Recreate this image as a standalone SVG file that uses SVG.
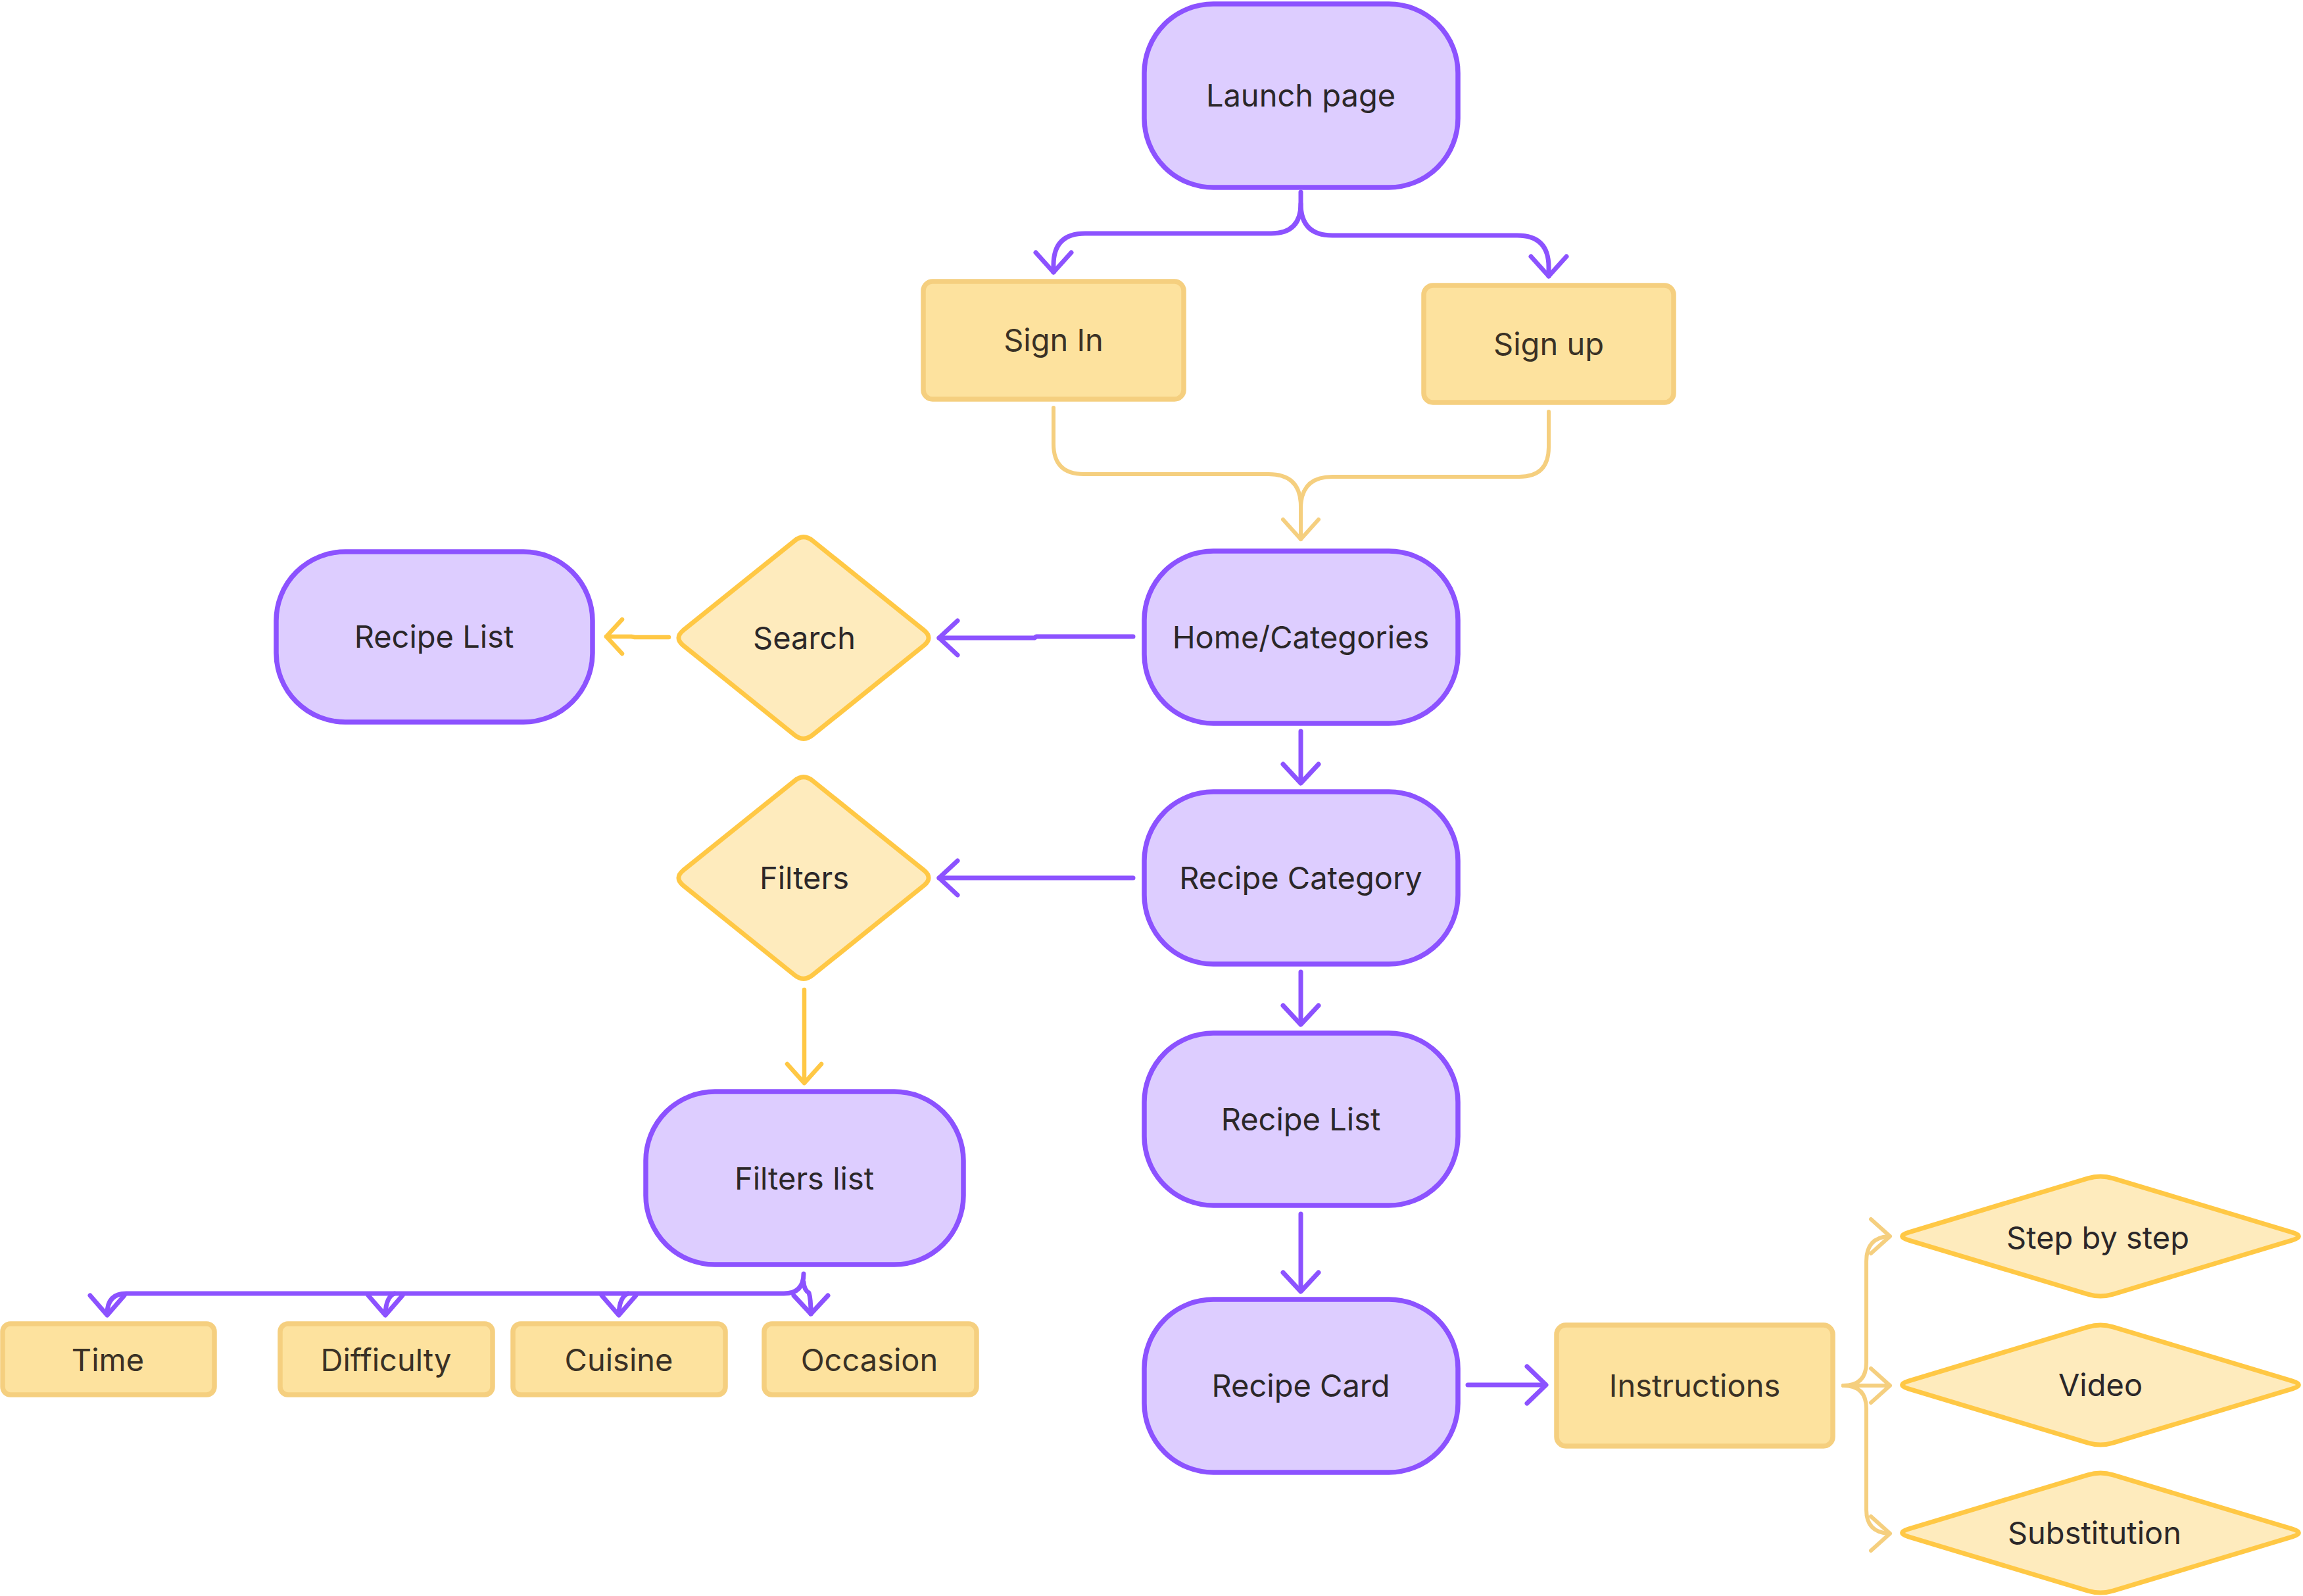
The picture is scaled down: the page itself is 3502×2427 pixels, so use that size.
<svg xmlns="http://www.w3.org/2000/svg" width="3502" height="2427" viewBox="0 0 3502 2427">
<style>
.pn{fill:#DDCDFF;stroke:#8C52FF;stroke-width:7.5}
.yn{fill:#FDE29E;stroke:#F5CF7F;stroke-width:7.5}
.dn{fill:#FEEBBD;stroke:#FFC845;stroke-width:7;stroke-linejoin:round}
.t{font-family:Inter,'Noto Sans','Liberation Sans',sans-serif;font-size:47px;text-anchor:middle;fill:#2B2729}
.ty{fill:#3A3125}
.cp{fill:none;stroke:#8C52FF;stroke-width:7;stroke-linecap:round;stroke-linejoin:round}
.cy{fill:none;stroke:#F5CF7F;stroke-width:6;stroke-linecap:round;stroke-linejoin:round}
.cb{fill:none;stroke:#FFC845;stroke-width:6.5;stroke-linecap:round;stroke-linejoin:round}
</style>
<rect width="3502" height="2427" fill="#FFFFFF"/>
<g id="connectors">
<path class="cp" d="M1978 292 L1978 310 Q1978 355 1933 355 L1650 355 Q1602 355 1602 403 L1602 414"/>
<path class="cp" d="M1575 384 L1602 414 L1629 384"/>
<path class="cp" d="M1978 310 Q1978 358 2026 358 L2307 358 Q2355 358 2355 406 L2355 420"/>
<path class="cp" d="M2328 390 L2355 420 L2382 390"/>
<path class="cy" d="M1602 620 L1602 675 Q1602 721 1648 721 L1929 721 Q1978 721 1978 770 L1978 820"/>
<path class="cy" d="M2355 626 L2355 680 Q2355 725 2310 725 L2026 725 Q1978 725 1978 773"/>
<path class="cy" d="M1951 790 L1978 820 L2005 790"/>
<path class="cp" d="M1723 968 L1576 968 L1573 970 L1428 970"/>
<path class="cp" d="M1456 944 L1428 970 L1456 996"/>
<path class="cb" d="M1017 969 L965 969 L960 968 L922 968"/>
<path class="cb" d="M946 942 L922 968 L946 994"/>
<path class="cp" d="M1978 1112 L1978 1190"/>
<path class="cp" d="M1951 1162 L1978 1191 L2005 1162"/>
<path class="cp" d="M1723 1335 L1428 1335"/>
<path class="cp" d="M1456 1309 L1428 1335 L1456 1361"/>
<path class="cp" d="M1978 1478 L1978 1557"/>
<path class="cp" d="M1951 1529 L1978 1558 L2005 1529"/>
<path class="cp" d="M1978 1846 L1978 1963"/>
<path class="cp" d="M1951 1935 L1978 1964 L2005 1935"/>
<path class="cp" d="M2232 2106 L2350 2106"/>
<path class="cp" d="M2322 2078 L2351 2106 L2322 2134"/>
<path class="cb" d="M1223 1505 L1223 1646"/>
<path class="cb" d="M1197 1618 L1223 1647 L1249 1618"/>
<path class="cp" d="M1222 1937 Q1222 1967 1192 1967 L192 1967 Q163 1967 163 1998"/>
<path class="cp" d="M137 1970 L163 2000 L189 1970"/>
<path class="cp" d="M600 1967 Q587 1972 586 1998"/>
<path class="cp" d="M560 1970 L586 2000 L612 1970"/>
<path class="cp" d="M955 1967 Q942 1972 941 1998"/>
<path class="cp" d="M915 1970 L941 2000 L967 1970"/>
<path class="cp" d="M1222 1950 Q1223 1962 1230 1966 Q1233 1975 1233 1998"/>
<path class="cp" d="M1207 1970 L1233 1998 L1259 1970"/>
<path class="cy" d="M2803 2107 Q2838 2107 2838 2072 L2838 1918 Q2838 1882 2872 1880"/>
<path class="cy" d="M2845 1854 L2874 1880 L2845 1906"/>
<path class="cy" d="M2803 2107 L2872 2107"/>
<path class="cy" d="M2845 2081 L2874 2107 L2845 2133"/>
<path class="cy" d="M2803 2107 Q2838 2107 2838 2142 L2838 2296 Q2838 2330 2872 2332"/>
<path class="cy" d="M2845 2306 L2874 2332 L2845 2358"/>
</g>
<g id="launch"><rect class="pn" x="1740" y="6" width="477" height="279" rx="105" ry="105"/><text class="t" x="1978" y="162">Launch page</text></g>
<g id="signin"><rect class="yn" x="1404" y="428" width="396" height="179" rx="14"/><text class="t ty" x="1602" y="534">Sign In</text></g>
<g id="signup"><rect class="yn" x="2165" y="434" width="380" height="178" rx="14"/><text class="t ty" x="2355" y="540">Sign up</text></g>
<g id="home"><rect class="pn" x="1740" y="838" width="477" height="262" rx="105" ry="105"/><text class="t" x="1978" y="986">Home/Categories</text></g>
<g id="recipelist-left"><rect class="pn" x="420" y="839" width="481" height="259" rx="105" ry="105"/><text class="t" x="660" y="985">Recipe List</text></g>
<g id="search"><path class="dn" transform="translate(1222,970)" d="M -183.1 -11.4 L -13.9 -147.6 Q 0 -159 13.9 -147.6 L 183.1 -11.4 Q 197 0 183.1 11.4 L 13.9 147.6 Q 0 159 -13.9 147.6 L -183.1 11.4 Q -197 0 -183.1 -11.4 Z"/><text class="t" x="1223" y="987">Search</text></g>
<g id="category"><rect class="pn" x="1740" y="1204" width="477" height="262" rx="105" ry="105"/><text class="t" x="1978" y="1352">Recipe Category</text></g>
<g id="filters"><path class="dn" transform="translate(1222,1335)" d="M -183.1 -11.4 L -13.9 -147.6 Q 0 -159 13.9 -147.6 L 183.1 -11.4 Q 197 0 183.1 11.4 L 13.9 147.6 Q 0 159 -13.9 147.6 L -183.1 11.4 Q -197 0 -183.1 -11.4 Z"/><text class="t" x="1223" y="1352">Filters</text></g>
<g id="recipelist"><rect class="pn" x="1740" y="1571" width="477" height="262" rx="105" ry="105"/><text class="t" x="1978" y="1719">Recipe List</text></g>
<g id="filterslist"><rect class="pn" x="982" y="1660" width="483" height="263" rx="105" ry="105"/><text class="t" x="1223" y="1809">Filters list</text></g>
<g id="time"><rect class="yn" x="4" y="2013" width="322" height="108" rx="12"/><text class="t ty" x="164" y="2085">Time</text></g>
<g id="difficulty"><rect class="yn" x="426" y="2013" width="323" height="108" rx="12"/><text class="t ty" x="587" y="2085">Difficulty</text></g>
<g id="cuisine"><rect class="yn" x="780" y="2013" width="323" height="108" rx="12"/><text class="t ty" x="941" y="2085">Cuisine</text></g>
<g id="occasion"><rect class="yn" x="1162" y="2013" width="323" height="108" rx="12"/><text class="t ty" x="1322" y="2085">Occasion</text></g>
<g id="recipecard"><rect class="pn" x="1740" y="1976" width="477" height="263" rx="105" ry="105"/><text class="t" x="1978" y="2124">Recipe Card</text></g>
<g id="instructions"><rect class="yn" x="2367" y="2015" width="420" height="184" rx="14"/><text class="t ty" x="2577" y="2124">Instructions</text></g>
<g id="stepbystep"><path class="dn" transform="translate(3194,1880)" d="M -291.9 -5.8 L -19.1 -88.2 Q 0 -94 19.1 -88.2 L 291.9 -5.8 Q 311 0 291.9 5.8 L 19.1 88.2 Q 0 94 -19.1 88.2 L -291.9 5.8 Q -311 0 -291.9 -5.8 Z"/><text class="t" x="3190" y="1899">Step by step</text></g>
<g id="video"><path class="dn" transform="translate(3194,2106)" d="M -291.9 -5.8 L -19.1 -88.2 Q 0 -94 19.1 -88.2 L 291.9 -5.8 Q 311 0 291.9 5.8 L 19.1 88.2 Q 0 94 -19.1 88.2 L -291.9 5.8 Q -311 0 -291.9 -5.8 Z"/><text class="t" x="3194" y="2123">Video</text></g>
<g id="substitution"><path class="dn" transform="translate(3194,2331)" d="M -291.9 -5.8 L -19.1 -88.2 Q 0 -94 19.1 -88.2 L 291.9 -5.8 Q 311 0 291.9 5.8 L 19.1 88.2 Q 0 94 -19.1 88.2 L -291.9 5.8 Q -311 0 -291.9 -5.8 Z"/><text class="t" x="3185" y="2348">Substitution</text></g>
</svg>
